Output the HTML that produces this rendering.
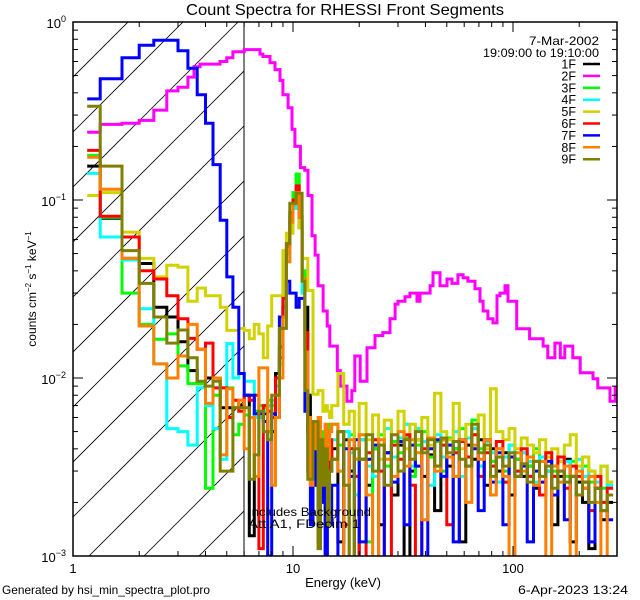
<!DOCTYPE html>
<html><head><meta charset="utf-8"><style>
html,body{margin:0;padding:0;background:#fff;}
svg{display:block;font-family:"Liberation Sans",sans-serif;}
</style></head><body>
<svg id="chart" width="640" height="600" viewBox="0 0 640 600" xmlns="http://www.w3.org/2000/svg">
<defs><clipPath id="plotclip"><rect x="73" y="22" width="544" height="534"/></clipPath>
<clipPath id="hatchclip"><rect x="73" y="22" width="171" height="534"/></clipPath></defs>
<rect width="640" height="600" fill="#fff"/>
<text x="345" y="15" font-size="16" textLength="318" lengthAdjust="spacingAndGlyphs" text-anchor="middle">Count Spectra for RHESSI Front Segments</text>
<g id="hatch" clip-path="url(#hatchclip)"></g>
<line x1="244" y1="22" x2="244" y2="556" stroke="#000" stroke-width="1"/>
<g id="series" clip-path="url(#plotclip)"></g>
<g id="axes"></g>
<text x="248" y="516" font-size="12" textLength="123" lengthAdjust="spacingAndGlyphs">Includes Background</text>
<text x="248" y="528" font-size="12" textLength="112" lengthAdjust="spacingAndGlyphs">Att A1, FDecim 1</text>
<text x="343" y="587" font-size="13" text-anchor="middle">Energy (keV)</text>
<text transform="translate(36,289) rotate(-90)" font-size="12" text-anchor="middle">counts cm<tspan font-size="8" dy="-5">−2</tspan><tspan dy="5"> s</tspan><tspan font-size="8" dy="-5">−1</tspan><tspan dy="5"> keV</tspan><tspan font-size="8" dy="-5">−1</tspan></text>
<text x="2" y="594" font-size="12" textLength="208" lengthAdjust="spacingAndGlyphs">Generated by hsi_min_spectra_plot.pro</text>
<text x="628" y="594" font-size="12" text-anchor="end" textLength="110" lengthAdjust="spacingAndGlyphs">6-Apr-2023 13:24</text>
<text x="599" y="45" font-size="12" text-anchor="end" textLength="70" lengthAdjust="spacingAndGlyphs">7-Mar-2002</text>
<text x="599" y="57" font-size="12" text-anchor="end" textLength="116" lengthAdjust="spacingAndGlyphs">19:09:00 to 19:10:00</text>
<g id="legend"></g>
</svg>
<script>
// ---- data ----
const seriesNames = ["1F","2F","3F","4F","5F","6F","7F","8F","9F"];
const seriesColors = ["#000000","#ff00ff","#00ff00","#00ffff","#d2d200","#ff0000","#0000ff","#ff8000","#808000"];

const lowEdges = [1.16,1.33,1.67,2.0,2.33,2.67,3.0,3.33,3.67,4.0,4.33,4.67,5.0,5.33,5.67,6.0,6.33,6.67,7.0,7.33,7.67,8.0,8.33,8.67,9.0,9.33,9.67,10.0,10.33,10.67,11.0,11.33,11.67,12.0,12.33,12.67,13.0,13.33,13.67,14.0,14.33,14.67,15.0];
const highEdges = [16,17,18,19,20,21.5,23,24.5,26,28,30,32,34,36,38.5,41,44,47,50,53.5,57,61,65,69.5,74,79,84,90,96,102,109,116,124,132,141,150,160,171,182,194,207,221,236,251,268,285,300];

const s1F_low = [0.155,0.079,0.047,0.044,0.025,0.022,0.016,0.011,0.0093,0.010,0.010,0.0068,0.0068,0.0068,0.007,0.008,0.0013,0.0063,0.0063,0.0063,0.005,0.005,0.0106,0.015,0.025,0.05,0.075,0.09,0.10,0.07,0.036,0.025,0.008,0.0045,0.003,0.0035,0.004,0.0025,0.003,0.002,0.0035,0.003];
const s1F_high = [0.004,0.0012,0.0045,0.003,0.0009,0.0035,0.0025,0.004,0.0015,0.0038,0.0022,0.0042,0.0008,0.003,0.0045,0.0028,0.0037,0.0018,0.0045,0.0032,0.004,0.0012,0.0042,0.0035,0.0045,0.0025,0.004,0.003,0.0038,0.0022,0.0035,0.0028,0.0032,0.0024,0.0036,0.003,0.0015,0.0028,0.0035,0.0012,0.0026,0.002,0.0011,0.0024,0.0016,0.002];

const s2F_edges = [1.16,1.33,1.67,2.0,2.33,2.67,3.0,3.33,3.55,3.78,4.66,5.0,5.33,6.0,7.08,7.3,7.86,8.28,8.73,9.0,9.5,9.9,10.2,10.8,11.3,11.7,12.2,12.6,13.0,13.7,14.3,14.7,15.9,16.4,17.6,18.5,19.1,20.2,21.7,23.6,25.6,27.6,29.1,30.0,32.3,34.0,36.6,37.8,42.0,43.3,46.6,50.1,52.8,56.2,59.3,62.4,67.2,70.8,73.1,76.9,81.1,84.6,87.3,92.0,94.9,100,104,111,119,133,137,144,155,164,172,187,202,217,231,243,267,276,291,300];
const s2F_values = [0.24,0.266,0.27,0.28,0.32,0.41,0.43,0.49,0.56,0.58,0.60,0.63,0.68,0.70,0.66,0.64,0.59,0.54,0.47,0.39,0.33,0.25,0.20,0.152,0.147,0.106,0.063,0.049,0.033,0.0238,0.0196,0.0151,0.011,0.009,0.0074,0.0085,0.0133,0.0096,0.0148,0.0173,0.018,0.0215,0.026,0.027,0.0286,0.030,0.027,0.030,0.033,0.039,0.033,0.036,0.034,0.038,0.0366,0.035,0.0317,0.027,0.0238,0.0215,0.0204,0.029,0.030,0.033,0.027,0.027,0.0189,0.0189,0.0166,0.0166,0.0151,0.013,0.0157,0.013,0.0151,0.013,0.0107,0.0107,0.0099,0.0088,0.0088,0.0074,0.0088];

const s3F_low = [0.178,0.08,0.030,0.020,0.0165,0.0177,0.0117,0.0093,0.0093,0.0024,0.008,0.0088,0.0088,0.0048,0.0055,0.0062,0.006,0.0065,0.007,0.0068,0.0075,0.007,0.008,0.012,0.025,0.05,0.08,0.11,0.14,0.09,0.04,0.015,0.005,0.003,0.0045,0.0055,0.004,0.005,0.0035,0.0025,0.004,0.0055];
const s3F_high = [0.0055,0.0042,0.0025,0.0048,0.0035,0.0045,0.0012,0.004,0.0048,0.0032,0.0044,0.0038,0.0046,0.0028,0.0042,0.005,0.0036,0.0044,0.003,0.0046,0.004,0.0052,0.0036,0.0058,0.004,0.0045,0.0034,0.004,0.003,0.0042,0.0035,0.0038,0.0032,0.004,0.0034,0.0038,0.003,0.0036,0.0028,0.0034,0.003,0.0032,0.0026,0.0028,0.0024,0.0026];

const s4F_low = [0.141,0.062,0.046,0.0245,0.012,0.0052,0.005,0.0042,0.0088,0.007,0.0052,0.0035,0.0156,0.010,0.0106,0.0096,0.0096,0.006,0.006,0.0065,0.007,0.0075,0.009,0.012,0.025,0.045,0.075,0.09,0.10,0.075,0.03,0.016,0.0055,0.005,0.004,0.0055,0.0045,0.0035,0.004,0.005,0.003,0.0045];
const s4F_high = [0.0045,0.003,0.005,0.0038,0.0022,0.0045,0.0032,0.0028,0.0042,0.0052,0.0036,0.0046,0.0055,0.0032,0.0052,0.0044,0.0025,0.0048,0.0036,0.0042,0.005,0.0028,0.0046,0.0052,0.0032,0.0044,0.0038,0.0026,0.0036,0.0042,0.003,0.0038,0.0034,0.0026,0.0036,0.003,0.0032,0.0026,0.0034,0.0028,0.0035,0.0028,0.003,0.0026,0.0032,0.0025];

const s5F_low = [0.106,0.11,0.066,0.047,0.037,0.043,0.042,0.027,0.032,0.029,0.029,0.025,0.0185,0.0185,0.019,0.0185,0.0166,0.020,0.0177,0.013,0.0196,0.029,0.029,0.029,0.052,0.065,0.065,0.096,0.096,0.07,0.047,0.047,0.031,0.031,0.0081,0.0081,0.0085,0.0085,0.0065,0.007,0.0065,0.006];
const s5F_high = [0.007,0.0106,0.0055,0.0065,0.004,0.0072,0.0045,0.0062,0.0035,0.0058,0.0048,0.0065,0.004,0.0055,0.0045,0.006,0.0042,0.0082,0.005,0.0045,0.0072,0.004,0.0055,0.0048,0.0062,0.004,0.0087,0.005,0.0045,0.0052,0.004,0.0046,0.0042,0.0038,0.0045,0.0036,0.004,0.0034,0.0042,0.0048,0.0032,0.0036,0.003,0.0028,0.0032,0.0026];

const s6F_low = [0.19,0.081,0.062,0.040,0.036,0.029,0.0215,0.0167,0.0145,0.0157,0.0088,0.0088,0.006,0.0075,0.0065,0.008,0.0075,0.008,0.0011,0.007,0.0065,0.006,0.010,0.013,0.028,0.055,0.085,0.10,0.12,0.08,0.036,0.018,0.005,0.004,0.0025,0.0045,0.0055,0.0035,0.0045,0.002,0.003,0.0045];
const s6F_high = [0.0035,0.005,0.0015,0.004,0.0028,0.0008,0.0038,0.0045,0.003,0.0009,0.0042,0.0035,0.0048,0.0025,0.0008,0.004,0.0046,0.0032,0.0042,0.0015,0.0038,0.0044,0.0036,0.0048,0.0028,0.0038,0.0032,0.0044,0.0026,0.0036,0.003,0.004,0.0028,0.0034,0.0022,0.0038,0.0028,0.0036,0.0024,0.0032,0.0028,0.0024,0.0018,0.0028,0.002,0.0024];

const s7F_low = [0.37,0.48,0.63,0.74,0.79,0.79,0.69,0.55,0.39,0.27,0.158,0.077,0.037,0.025,0.0106,0.008,0.008,0.0063,0.0063,0.0057,0.001,0.0063,0.006,0.022,0.022,0.035,0.030,0.030,0.025,0.028,0.028,0.0065,0.003,0.0015,0.0025,0.004,0.0012,0.002,0.003,0.0009,0.0025,0.0015];
const s7F_high = [0.0025,0.0009,0.004,0.0028,0.0045,0.0012,0.0035,0.0042,0.0009,0.0038,0.0026,0.0044,0.0015,0.0042,0.0032,0.0009,0.004,0.0045,0.0028,0.0042,0.0012,0.0045,0.0032,0.004,0.0018,0.0045,0.0026,0.0038,0.0015,0.0036,0.0028,0.0032,0.0012,0.003,0.0026,0.0034,0.0022,0.003,0.0016,0.0028,0.0022,0.0026,0.0012,0.0024,0.0018,0.0016];

const s8F_low = [0.174,0.115,0.047,0.0196,0.012,0.010,0.0133,0.020,0.0145,0.0072,0.010,0.0037,0.0087,0.0068,0.0075,0.004,0.006,0.0028,0.0114,0.0114,0.005,0.0025,0.006,0.010,0.022,0.045,0.075,0.095,0.11,0.08,0.036,0.014,0.006,0.0025,0.0055,0.004,0.006,0.0045,0.003,0.0055,0.0035,0.005];
const s8F_high = [0.0055,0.003,0.0008,0.0045,0.0035,0.0048,0.0022,0.0008,0.0045,0.0035,0.0028,0.005,0.0032,0.0045,0.0038,0.0016,0.0046,0.003,0.0045,0.0036,0.0028,0.0045,0.002,0.0042,0.0035,0.0045,0.0022,0.004,0.0028,0.0008,0.0038,0.003,0.0036,0.0025,0.0034,0.0009,0.0032,0.0026,0.0032,0.0008,0.003,0.0024,0.0028,0.002,0.0008,0.0022];

const s9F_low = [0.336,0.155,0.052,0.034,0.022,0.0157,0.0186,0.013,0.0096,0.009,0.0096,0.003,0.003,0.0068,0.0068,0.0068,0.0027,0.0037,0.0065,0.005,0.0045,0.008,0.008,0.019,0.019,0.057,0.096,0.096,0.109,0.109,0.035,0.0085,0.0027,0.0027,0.0057,0.0057,0.0011,0.0045,0.0025,0.004,0.0015,0.003];
const s9F_high = [0.0035,0.005,0.0025,0.0008,0.004,0.0035,0.0048,0.003,0.0042,0.0025,0.0048,0.003,0.0045,0.0035,0.005,0.0038,0.0045,0.0032,0.0046,0.0038,0.0044,0.0035,0.0032,0.0055,0.0038,0.0042,0.0028,0.0036,0.0032,0.0038,0.0028,0.0033,0.0026,0.0034,0.0028,0.0032,0.0024,0.003,0.0026,0.0028,0.0022,0.0026,0.002,0.0024,0.0018,0.0022];

const xTickMajor = [1,10,100];
const xTickLabels = ["1","10","100"];
const yTickMajor = [1,0.1,0.01,0.001];
const yTickExp = ["0","−1","−2","−3"];

// ---- scales ----
const X0=73,X1=617,Y0=22,Y1=556, XMIN=1, XMAX=297, YMIN=1e-3, YMAX=1;
function xs(e){return X0+(X1-X0)*Math.log10(e/XMIN)/Math.log10(XMAX/XMIN);}
function ys(v){v=Math.max(v,YMIN*0.5);return Y1-(Y1-Y0)*(Math.log10(v)-Math.log10(YMIN))/(Math.log10(YMAX)-Math.log10(YMIN));}
const NS="http://www.w3.org/2000/svg";
function mk(tag,attrs,parent){const el=document.createElementNS(NS,tag);for(const k in attrs)el.setAttribute(k,attrs[k]);parent.appendChild(el);return el;}

// hatch
const hatch=document.getElementById('hatch');
for(let c=95;c<=820;c+=55){
  const l=mk('line',{x1:c-600,y1:600,x2:c,y2:0,stroke:'#000','stroke-width':0.8},hatch);
  
  
}

function stepPath(edges,vals){
  let d='';const n=Math.min(vals.length,edges.length-1);
  for(let i=0;i<n;i++){
    const xa=xs(edges[i]).toFixed(1),xb=xs(edges[i+1]).toFixed(1),y=ys(vals[i]).toFixed(1);
    d+=(i===0?'M'+xa+' '+y:'V'+y)+'H'+xb;
  }
  return d;
}
const allEdges = lowEdges.concat(highEdges);
const lowSeries = {"1F":[s1F_low,s1F_high],"3F":[s3F_low,s3F_high],"4F":[s4F_low,s4F_high],"5F":[s5F_low,s5F_high],"6F":[s6F_low,s6F_high],"7F":[s7F_low,s7F_high],"8F":[s8F_low,s8F_high],"9F":[s9F_low,s9F_high]};
const sg=document.getElementById('series');
seriesNames.forEach((nm,i)=>{
  let d;
  if(nm==="2F") d=stepPath(s2F_edges,s2F_values);
  else { const p=lowSeries[nm]; d=stepPath(allEdges,p[0].concat(p[1])); }
  const path=mk('path',{d:d,fill:'none',stroke:seriesColors[i],'stroke-width':3,'stroke-linejoin':'miter'},sg);
  
  
});

// axes
const ax=document.getElementById('axes');
const frame=mk('rect',{x:X0,y:Y0,width:X1-X0,height:Y1-Y0,fill:'none',stroke:'#000','stroke-width':1.5},ax);


for(let dec=1;dec<=100;dec*=10){
  for(let m=1;m<10;m++){
    const e=dec*m; if(e>XMAX) break;
    const x=xs(e), L=(m===1)?10:5;
    const t1=mk('line',{x1:x,y1:Y1,x2:x,y2:Y1-L,stroke:'#000','stroke-width':1},ax);
    
    
    const t2=mk('line',{x1:x,y1:Y0,x2:x,y2:Y0+L,stroke:'#000','stroke-width':1},ax);
    
    
  }
}
xTickMajor.forEach((e,i)=>{
  const t=mk('text',{x:xs(e),y:573,'font-size':13,'text-anchor':'middle'},ax);
  t.textContent=xTickLabels[i];
  
  
});
for(let dec=0.001;dec<1;dec*=10){
  for(let m=1;m<10;m++){
    const v=dec*m, y=ys(v), L=(m===1)?10:5;
    const t1=mk('line',{x1:X0,y1:y,x2:X0+L,y2:y,stroke:'#000','stroke-width':1},ax);
    
    
    const t2=mk('line',{x1:X1,y1:y,x2:X1-L,y2:y,stroke:'#000','stroke-width':1},ax);
    
    
  }
}
yTickMajor.forEach((v,i)=>{
  const t=mk('text',{x:66,y:ys(v)+6,'font-size':13,'text-anchor':'end'},ax);
  
  
  t.textContent='10';
  const s=mk('tspan',{dy:-6,'font-size':9},t);
  s.textContent=yTickExp[i];
});

// legend
const lg=document.getElementById('legend');
seriesNames.forEach((nm,i)=>{
  const y=64+i*11.9;
  const t=mk('text',{x:576,y:y+4.5,'font-size':12.5,'text-anchor':'end'},lg);
  t.textContent=nm;
  
  
  const l=mk('line',{x1:583,y1:y,x2:600,y2:y,stroke:seriesColors[i],'stroke-width':2.5},lg);
  
  
});
</script>
</body></html>
